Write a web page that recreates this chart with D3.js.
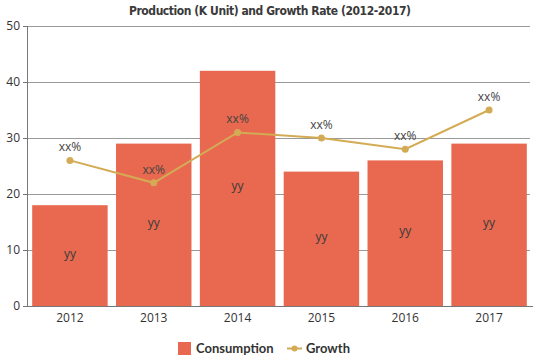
<!DOCTYPE html>
<html><head><meta charset="utf-8">
<script src="https://cdn.jsdelivr.net/npm/d3@7"></script>
<style>body{margin:0;background:#fff}svg{display:block}</style>
</head><body><svg id="c" width="539" height="359"></svg>
<script>
const categories = ["2012","2013","2014","2015","2016","2017"];
const consumption = [18, 29, 42, 24, 26, 29];
const growth = [26, 22, 31, 30, 28, 35];
const barLabels = ["yy","yy","yy","yy","yy","yy"];
const pointLabels = ["xx%","xx%","xx%","xx%","xx%","xx%"];
const yTicks = [0,10,20,30,40,50];
const title = "Production (K Unit) and Growth Rate (2012-2017)";

const svg = d3.select("#c");
const m = {l:28, r:8, t:26, b:53};
const W = 539, H = 359;
const x = d3.scaleBand().domain(categories).range([m.l, W-m.r]).paddingInner(0.1).paddingOuter(0.05);
const y = d3.scaleLinear().domain([0,50]).range([H-m.b, m.t]);
const barColor = "#E8694F", lineColor = "#D4AB55";

svg.append("text").attr("x", 270).attr("y", 15).attr("text-anchor","middle")
  .style("font-family","'DejaVu Sans Condensed','DejaVu Sans'").style("font-weight","bold")
  .style("font-size","12px").attr("fill","#3a3a3a").attr("textLength",282).text(title);

// grid
svg.append("g").selectAll("line").data(yTicks.filter(d=>d>0)).join("line")
  .attr("x1", m.l).attr("x2", W-m.r-1).attr("y1", d=>y(d)).attr("y2", d=>y(d))
  .attr("stroke","#9a9a9a").attr("stroke-width",1).attr("shape-rendering","crispEdges");

// bars
svg.append("g").selectAll("rect").data(consumption).join("rect")
  .attr("x",(d,i)=>x(categories[i])).attr("width",x.bandwidth())
  .attr("y",d=>y(d)).attr("height",d=>y(0)-y(d)).attr("fill",barColor);

svg.append("g").selectAll("text").data(consumption).join("text")
  .attr("x",(d,i)=>x(categories[i])+x.bandwidth()/2).attr("y",d=>(y(d)+y(0))/2+2)
  .attr("text-anchor","middle").style("font-family","'Open Sans'").style("font-size","12px")
  .attr("fill","#3a3a3a").text((d,i)=>barLabels[i]);

// axes
const ya = svg.append("g").attr("transform",`translate(${m.l},0)`)
  .call(d3.axisLeft(y).tickValues(yTicks).tickSize(5).tickPadding(3));
ya.select(".domain").attr("stroke","#777").attr("d",`M-0.5,${y(50)}V${y(0)}`);
ya.selectAll(".tick line").attr("stroke","#777");
ya.selectAll("text").style("font-family","'Open Sans'").style("font-size","12px").attr("fill","#333");

const xa = svg.append("g").attr("transform",`translate(0,${y(0)})`)
  .call(d3.axisBottom(x).tickSize(0).tickPadding(7));
xa.select(".domain").attr("stroke","#777").attr("d",`M${m.l},0.5H${W-m.r+2}`);
xa.selectAll("text").style("font-family","'Open Sans'").style("font-size","12px").attr("fill","#333");

// line
const cx = (d,i)=>x(categories[i])+x.bandwidth()/2;
svg.append("path").datum(growth)
  .attr("d", d3.line().x(cx).y(d=>y(d)))
  .attr("fill","none").attr("stroke",lineColor).attr("stroke-width",2);
svg.append("g").selectAll("circle").data(growth).join("circle")
  .attr("cx",cx).attr("cy",d=>y(d)).attr("r",3.5).attr("fill",lineColor);
svg.append("g").selectAll("text").data(growth).join("text")
  .attr("x",cx).attr("y",d=>y(d)-9).attr("text-anchor","middle")
  .style("font-family","'Open Sans'").style("font-size","12px").attr("fill","#444")
  .text((d,i)=>pointLabels[i]);

// legend
const lg = svg.append("g");
lg.append("rect").attr("x",178).attr("y",342).attr("width",13).attr("height",13).attr("fill",barColor);
lg.append("text").attr("x",196).attr("y",353).style("font-family","Lato").style("font-weight","bold")
  .style("font-size","13px").attr("fill","#333").text("Consumption");
lg.append("line").attr("x1",287).attr("x2",302).attr("y1",348.5).attr("y2",348.5).attr("stroke",lineColor).attr("stroke-width",2);
lg.append("circle").attr("cx",294.5).attr("cy",348.5).attr("r",3).attr("fill",lineColor);
lg.append("text").attr("x",306).attr("y",353).style("font-family","Lato").style("font-weight","bold")
  .style("font-size","13px").attr("fill","#333").text("Growth");
</script></body></html>
